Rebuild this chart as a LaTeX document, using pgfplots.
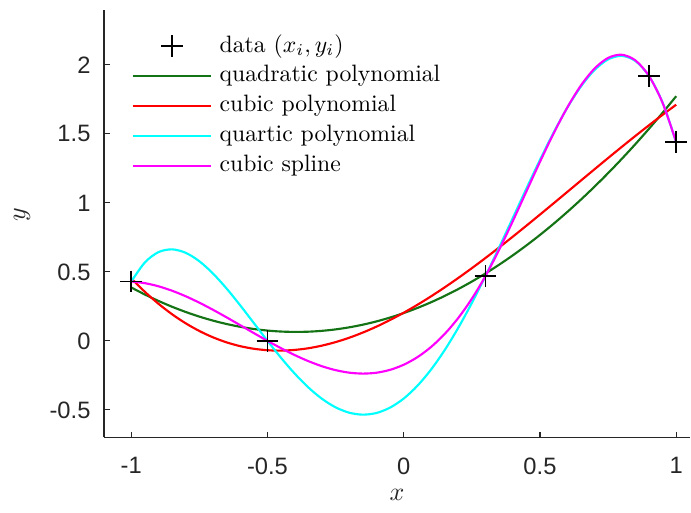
\documentclass[border=0pt]{standalone}
\usepackage{fontspec}
\setsansfont{Liberation Sans}
\usepackage{pgfplots}
\pgfplotsset{compat=1.18}
\definecolor{mgray}{rgb}{0.15,0.15,0.15}
\definecolor{mgreen}{rgb}{0.08,0.45,0.08}
\definecolor{mred}{rgb}{1,0,0}
\definecolor{mcyan}{rgb}{0,1,1}
\definecolor{mmagenta}{rgb}{1,0,1}
\begin{document}
\begin{tikzpicture}
\useasboundingbox (-43.9pt,-31.8pt) rectangle (247.7pt,184.6pt);
\begin{axis}[
  scale only axis, width=247.2pt, height=180.5pt,
  xmin=-1.1, xmax=1.05, ymin=-0.7, ymax=2.4,
  axis x line*=bottom, axis y line*=left,
  axis line style={-, mgray, line width=0.5pt},
  tick align=inside, major tick length=2.5pt,
  tick style={mgray, line width=0.5pt},
  xtick={-1,-0.5,0,0.5,1}, xticklabels={-1,-0.5,0,0.5,1},
  ytick={-0.5,0,0.5,1,1.5,2}, yticklabels={-0.5,0,0.5,1,1.5,2},
  ticklabel style={font=\sffamily\fontsize{10}{12}\selectfont, text=mgray},
  xticklabel style={yshift=-5pt}, yticklabel style={xshift=-2.2pt},
  xlabel={$x$}, ylabel={$y$},
  label style={font=\fontsize{11}{13}\selectfont, text=mgray},
  xlabel style={at={(axis description cs:0.5,0)}, anchor=center, yshift=-24.2pt},
  ylabel style={at={([xshift=-34.6pt]axis description cs:0,0.52)}, anchor=center},
  legend cell align=left,
  legend style={draw=none, fill=none, at={(0,1)}, anchor=north west, xshift=11.4pt, yshift=-8.9pt,
    font=\fontsize{10}{12}\selectfont, row sep=0pt, inner sep=0pt,
    nodes={text height=7.5pt, text depth=2.5pt, inner sep=1.3pt}, column sep=2pt},
  legend image code/.code={\draw[mark repeat=2,mark phase=2] plot coordinates {(0pt,0pt) (16.5pt,0pt) (33pt,0pt)};},
]
\addplot[only marks, mark=+, mark size=4.6pt, mark options={line width=0.8pt}, black]
  coordinates {(-1,0.43) (-0.5,0) (0.3,0.47) (0.9,1.92) (1,1.44)};
\addlegendentry{data $(x_i,y_i)$}
\addplot[mgreen, line width=0.9pt, smooth, no marks] coordinates {
(-1,0.38677)(-0.95,0.33578)(-0.9,0.28918)(-0.85,0.24698)(-0.8,0.20917)(-0.75,0.17575)(-0.7,0.14672)(-0.65,0.12208)(-0.6,0.10184)(-0.55,0.08599)(-0.5,0.07453)(-0.45,0.06746)(-0.4,0.06479)(-0.35,0.06651)(-0.3,0.07262)(-0.25,0.08312)(-0.2,0.09802)(-0.15,0.11730)(-0.1,0.14098)(-0.05,0.16906)(0,0.20152)(0.05,0.23838)(0.1,0.27963)(0.15,0.32527)(0.2,0.37530)(0.25,0.42973)(0.3,0.48854)(0.35,0.55176)(0.4,0.61936)(0.45,0.69135)(0.5,0.76774)(0.55,0.84852)(0.6,0.93369)(0.65,1.02326)(0.7,1.11721)(0.75,1.21556)(0.8,1.31830)(0.85,1.42544)(0.9,1.53696)(0.95,1.65288)(1,1.77319)};
\addlegendentry{quadratic polynomial}
\addplot[mred, line width=0.9pt, smooth, no marks] coordinates {
(-1,0.45310)(-0.95,0.35523)(-0.9,0.26848)(-0.85,0.19248)(-0.8,0.12689)(-0.75,0.07135)(-0.7,0.02552)(-0.65,-0.01098)(-0.6,-0.03848)(-0.55,-0.05735)(-0.5,-0.06793)(-0.45,-0.07058)(-0.4,-0.06566)(-0.35,-0.05352)(-0.3,-0.03450)(-0.25,-0.00898)(-0.2,0.02271)(-0.15,0.06021)(-0.1,0.10316)(-0.05,0.15121)(0,0.20400)(0.05,0.26119)(0.1,0.32241)(0.15,0.38732)(0.2,0.45556)(0.25,0.52677)(0.3,0.60061)(0.35,0.67672)(0.4,0.75475)(0.45,0.83433)(0.5,0.91513)(0.55,0.99677)(0.6,1.07892)(0.65,1.16122)(0.7,1.24331)(0.75,1.32484)(0.8,1.40545)(0.85,1.48479)(0.9,1.56252)(0.95,1.63826)(1,1.71168)};
\addlegendentry{cubic polynomial}
\addplot[mcyan, line width=0.9pt, smooth, no marks] coordinates {
(-1,0.43000)(-0.95,0.56888)(-0.9,0.64327)(-0.85,0.66315)(-0.8,0.63804)(-0.75,0.57685)(-0.7,0.48788)(-0.65,0.37887)(-0.6,0.25695)(-0.55,0.12868)(-0.5,0.0)(-0.45,-0.12370)(-0.4,-0.23765)(-0.35,-0.33764)(-0.3,-0.42008)(-0.25,-0.48193)(-0.2,-0.52078)(-0.15,-0.53478)(-0.1,-0.52268)(-0.05,-0.48381)(0,-0.41810)(0.05,-0.32606)(0.1,-0.20878)(0.15,-0.06797)(0.2,0.09411)(0.25,0.27458)(0.3,0.47000)(0.35,0.67632)(0.4,0.88890)(0.45,1.10254)(0.5,1.31142)(0.55,1.50914)(0.6,1.68873)(0.65,1.84260)(0.7,1.96260)(0.75,2.03997)(0.8,2.06538)(0.85,2.02889)(0.9,1.92000)(0.95,1.72757)(1,1.44001)};
\addlegendentry{quartic polynomial}
\addplot[mmagenta, line width=0.9pt, smooth, no marks] coordinates {
(-1,0.43001)(-0.95,0.41816)(-0.9,0.39538)(-0.85,0.36319)(-0.8,0.32307)(-0.75,0.27654)(-0.7,0.22508)(-0.65,0.17020)(-0.6,0.11340)(-0.55,0.05616)(-0.5,0.0)(-0.45,-0.05359)(-0.4,-0.10311)(-0.35,-0.14707)(-0.3,-0.18396)(-0.25,-0.21228)(-0.2,-0.23054)(-0.15,-0.23724)(-0.1,-0.23088)(-0.05,-0.20996)(0,-0.17298)(0.05,-0.11845)(0.1,-0.04486)(0.15,0.04928)(0.2,0.16547)(0.25,0.30521)(0.3,0.47)(0.35,0.65959)(0.4,0.86671)(0.45,1.08236)(0.5,1.29752)(0.55,1.50318)(0.6,1.69034)(0.65,1.84998)(0.7,1.97308)(0.75,2.05065)(0.8,2.07367)(0.85,2.03311)(0.9,1.92)(0.95,1.72529)(1,1.43999)};
\addlegendentry{cubic spline}
\end{axis}
\end{tikzpicture}
\end{document}
